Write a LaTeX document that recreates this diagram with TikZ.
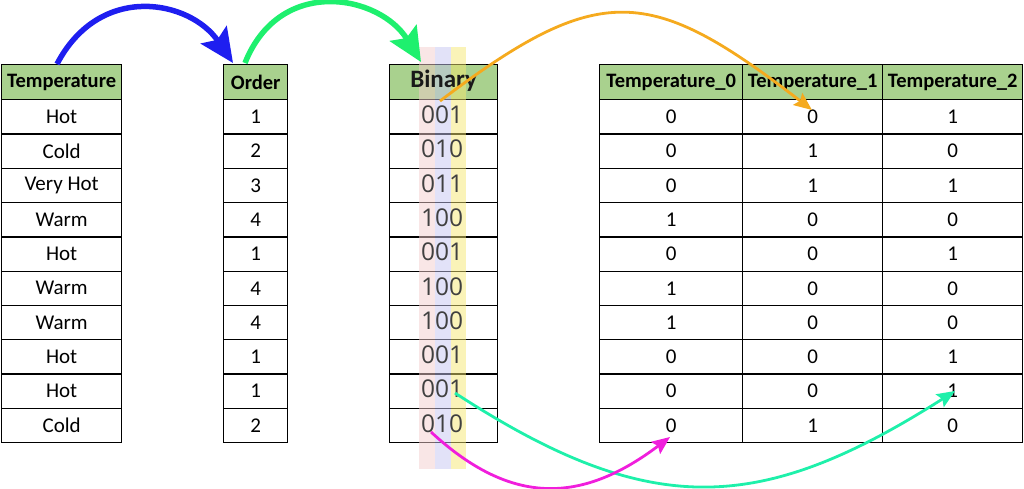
\documentclass[tikz,border=0pt]{standalone}
\usepackage{fontspec}
\setmainfont{Carlito}
\newfontfamily\digitfont{Open Sans}
\usetikzlibrary{arrows.meta}
\definecolor{hdr}{RGB}{169,209,142}
\definecolor{pinkS}{RGB}{243,205,205}
\definecolor{blueS}{RGB}{197,197,241}
\definecolor{yellowS}{RGB}{245,231,113}
\definecolor{cBlue}{RGB}{30,30,240}
\definecolor{cGreen}{RGB}{30,240,110}
\definecolor{cOrange}{RGB}{245,170,30}
\definecolor{cTeal}{RGB}{30,240,170}
\definecolor{cMagenta}{RGB}{240,30,220}
\definecolor{digitgray}{RGB}{64,64,64}
\begin{document}
\begin{tikzpicture}[x=1pt,y=-1pt,
  cell/.style={draw=black, line width=1.3pt, anchor=north west, inner sep=0pt,
    minimum height=34.3pt, font=\fontsize{21}{24}\selectfont},
  hcell/.style={cell, fill=hdr, minimum height=35pt, font=\fontsize{20.5}{24}\selectfont\bfseries},
  bintext/.style={inner sep=0pt, font=\fontsize{24.5}{28}\digitfont, text=digitgray},
  stripe/.style={fill opacity=0.5},
  bigarrow/.style={line width=5.5pt, -{Stealth[length=34pt,width=31pt,inset=6pt]}},
  thinarrow/.style={line width=2.8pt, -{Stealth[length=18pt,width=15pt,inset=3pt]}}]
\useasboundingbox (0,0) rectangle (1024,488);

% Table 1: Temperature
\node[hcell, minimum width=120pt] (t1h) at (1,64) {Temperature};
\foreach \t [count=\i] in {Hot,Cold,Very Hot,Warm,Hot,Warm,Warm,Hot,Hot,Cold}
  \node[cell, minimum width=120pt] (t1r\i) at (1,{99+(\i-1)*34.3}) {\t};

% Table 2: Order
\node[hcell, minimum width=64pt] (t2h) at (223,64) {Order};
\foreach \t [count=\i] in {1,2,3,4,1,4,4,1,1,2}
  \node[cell, minimum width=64pt] (t2r\i) at (223,{99+(\i-1)*34.3}) {\t};

% Table 3: Binary (cells first, text after the stripes)
\node[hcell, minimum width=108pt] (t3h) at (389,64) {};
\foreach \i in {1,...,10}
  \node[cell, minimum width=108pt] (t3r\i) at (389,{99+(\i-1)*34.3}) {};

% Table 4: one-hot columns
\node[hcell, minimum width=143pt] (t4h0) at (599,64) {Temperature\_0};
\node[hcell, minimum width=140pt] (t4h1) at (742,64) {Temperature\_1};
\node[hcell, minimum width=140pt] (t4h2) at (882,64) {Temperature\_2};
\foreach \a/\b/\c [count=\i] in {0/0/1,0/1/0,0/1/1,1/0/0,0/0/1,1/0/0,1/0/0,0/0/1,0/0/1,0/1/0}{
  \node[cell, minimum width=143pt] (t4a\i) at (599,{99+(\i-1)*34.3}) {\a};
  \node[cell, minimum width=140pt] (t4b\i) at (742,{99+(\i-1)*34.3}) {\b};
  \node[cell, minimum width=140pt] (t4c\i) at (882,{99+(\i-1)*34.3}) {\c};
}

% Stripes over the binary column
\fill[pinkS, stripe] (419,47) rectangle (435,469);
\fill[blueS, stripe] (435,47) rectangle (451,469);
\fill[yellowS, stripe] (451,47) rectangle (466,469);

% Binary texts
\node[inner sep=0pt, font=\fontsize{25}{28}\selectfont\bfseries, text=black!90] (t3ht) at ([yshift=1pt]t3h.center) {Binary};
\foreach \a/\b/\c [count=\i] in {0/0/1,0/1/0,0/1/1,1/0/0,0/0/1,1/0/0,1/0/0,0/0/1,0/0/1,0/1/0}
  \node[bintext] (t3t\i) at ([xshift=-1.5pt,yshift=2pt]t3r\i.center) {\a\b\c};

% Arrow end points
\coordinate (bS) at (57,64);
\coordinate (bE) at (233,63);
\coordinate (gS) at (245,63);
\coordinate (gE) at (421,62);
\coordinate (oS) at (440,101);
\coordinate (oE) at (812,110);
\coordinate (tS) at (455,393);
\coordinate (tE) at (955,391);
\coordinate (mS) at (431,432);
\coordinate (mE) at (670,437);

\draw[cBlue, bigarrow] (bS) .. controls (100,-18) and (190,0) .. (bE);
\draw[cGreen, bigarrow] (gS) .. controls (280,-25) and (380,-5) .. (gE);
\draw[cOrange, thinarrow] (oS) .. controls (600,-20) and (650,-15) .. (oE);
\draw[cTeal, thinarrow] (tS) .. controls (650,520) and (760,515) .. (tE);
\draw[cMagenta, thinarrow] (mS) .. controls (510,505) and (580,505) .. (mE);
\end{tikzpicture}
\end{document}
